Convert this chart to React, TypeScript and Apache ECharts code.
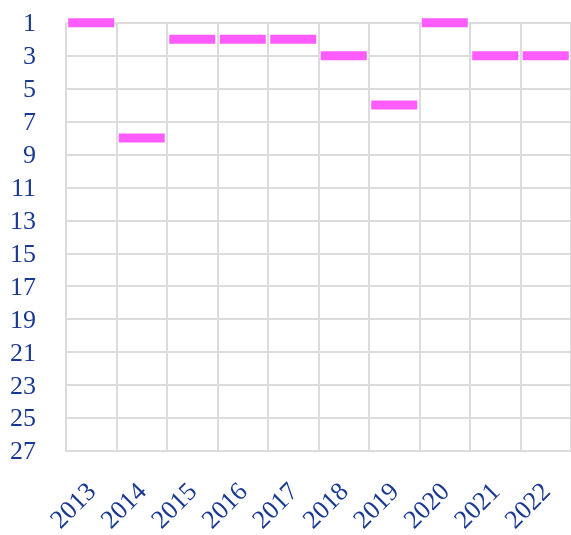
import React, { useEffect, useRef } from "react";
import * as echarts from "echarts";

const years = ["2013", "2014", "2015", "2016", "2017", "2018", "2019", "2020", "2021", "2022"];
const ranks = [1, 8, 2, 2, 2, 3, 6, 1, 3, 3];
const yMin = 1;
const yMax = 27;
const yStep = 2;

export default function App() {
  const ref = useRef<HTMLDivElement>(null);
  useEffect(() => {
    if (!ref.current) return;
    const chart = echarts.init(ref.current, null, { renderer: "svg" });
    const textColor = "#1a3a92";
    const gridColor = "#dcdcdf";
    const font = "Liberation Serif";
    chart.setOption({
      animation: false,
      grid: { left: 66, right: -5, top: 22.7, bottom: 82.3, containLabel: false },
      xAxis: {
        type: "category",
        data: years,
        boundaryGap: true,
        axisLine: { show: true, lineStyle: { color: gridColor, width: 2 } },
        axisTick: { show: false },
        splitLine: { show: true, lineStyle: { color: gridColor, width: 2 } },
        axisLabel: {
          rotate: 45,
          interval: 0,
          margin: 36,
          color: textColor,
          fontFamily: font,
          fontSize: 26,
        },
      },
      yAxis: {
        type: "value",
        inverse: true,
        min: yMin,
        max: yMax,
        interval: yStep,
        axisLine: { show: true, lineStyle: { color: gridColor, width: 2 } },
        axisTick: { show: false },
        splitLine: { show: true, lineStyle: { color: gridColor, width: 2 } },
        axisLabel: {
          margin: 30,
          color: textColor,
          fontFamily: font,
          fontSize: 26,
        },
      },
      series: [
        {
          type: "scatter",
          data: ranks,
          symbol: "rect",
          symbolSize: [46, 9],
          itemStyle: { color: "#ff5cff", opacity: 1 },
        },
      ],
    });
    return () => chart.dispose();
  }, []);
  return (
    <div
      ref={ref}
      style={{ position: "fixed", left: 0, top: 0, width: 571, height: 535 }}
    />
  );
}
